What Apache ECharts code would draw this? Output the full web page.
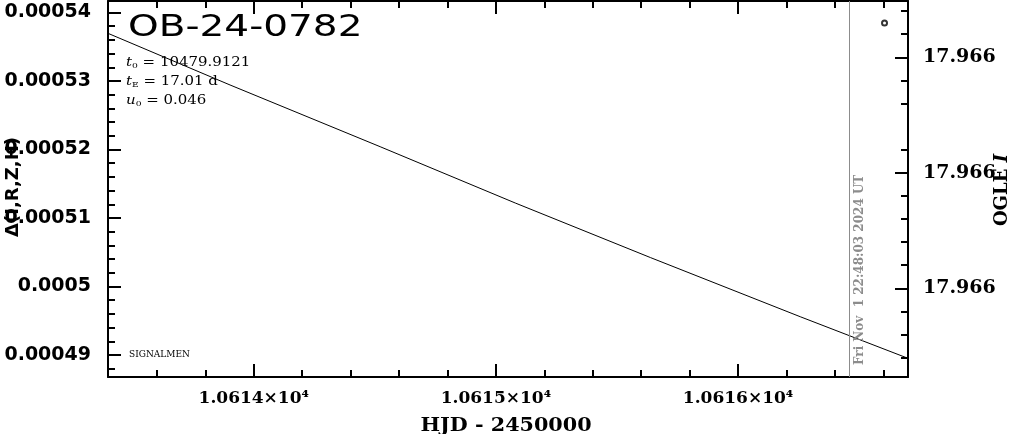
<!DOCTYPE html>
<html><head><meta charset="utf-8">
<script src="https://cdn.jsdelivr.net/npm/echarts@6/dist/echarts.min.js"></script>
<style>html,body{margin:0;padding:0;background:#fff}#c{width:1011px;height:434px}</style>
</head><body><div id="c"></div>
<script>
// ---- data ----
const hjd = [10613.398, 10613.902, 10614.522, 10615.080, 10615.638, 10616.257, 10616.699];
const deltaFlux = [0.00053696, 0.00052942, 0.00052041, 0.00051219, 0.00050423, 0.00049559, 0.00048956];
const ogleHjd = [10616.605];
const ogleDelta = [0.00053847];
const nowHjd = 10616.457;
const nowLabel = 'Fri Nov  1 22:48:03 2024 UT';
const title = 'OB-24-0782';
const params = ['{i|t}{s|0} = 10479.9121', '{i|t}{s|E} = 17.01 d', '{i|u}{s|0} = 0.046'];

const xMin = 10613.398, xMax = 10616.702;
const yMin = 0.00048679, yMax = 0.00054168;
const magMin = 17.96595025, magMax = 17.96601536;

const xMajorTicks = [10614, 10615, 10616];
const xTickLabels = ['1.0614×10⁴', '1.0615×10⁴', '1.0616×10⁴'];
const xMinorTicks = [10613.6, 10613.8, 10614.2, 10614.4, 10614.6, 10614.8, 10615.2, 10615.4, 10615.6, 10615.8, 10616.2, 10616.4, 10616.6];
const yMajorTicks = [0.00049, 0.0005, 0.00051, 0.00052, 0.00053, 0.00054];
const yTickLabels = ['0.00049', '0.0005', '0.00051', '0.00052', '0.00053', '0.00054'];
const yMinorTicks = [0.000488, 0.000492, 0.000494, 0.000496, 0.000498, 0.000502, 0.000504, 0.000506, 0.000508,
  0.000512, 0.000514, 0.000516, 0.000518, 0.000522, 0.000524, 0.000526, 0.000528, 0.000532, 0.000534, 0.000536, 0.000538];
const magMajorTicks = [17.96596, 17.96598, 17.96600];
const magTickLabels = ['17.966', '17.966', '17.966'];
const magMinorTicks = [17.965952, 17.965956, 17.965964, 17.965968, 17.965976, 17.965984, 17.965988, 17.965992, 17.965996, 17.966004, 17.966008, 17.966012];

// ---- chart ----
function lookup(ticks, labels) {
  return function (v) {
    for (let i = 0; i < ticks.length; i++) if (Math.abs(ticks[i] - v) < 1e-9 * Math.max(1, Math.abs(v))) return labels[i];
    return '';
  };
}
const BLACK = '#000';
function axisBase(extra) {
  return Object.assign({
    type: 'value', splitLine: { show: false },
    axisLine: { show: false }, axisLabel: { show: false }
  }, extra);
}
function majorTick(vals) { return { show: true, inside: true, length: 13, lineStyle: { color: BLACK, width: 2 }, customValues: vals }; }
function minorTick(vals) { return { show: true, inside: true, length: 7, lineStyle: { color: BLACK, width: 2 }, customValues: vals }; }
const frameLine = { show: true, onZero: false, lineStyle: { color: BLACK, width: 2 } };
const paramRich = {
  i: { fontStyle: 'italic', fontFamily: 'DejaVu Serif', fontSize: 13 },
  s: { fontSize: 8, fontFamily: 'DejaVu Serif', padding: [6, 0, 0, 0] }
};

const chart = echarts.init(document.getElementById('c'), null, { renderer: 'canvas' });
chart.setOption({
  animation: false,
  backgroundColor: '#fff',
  grid: { left: 108, right: 103, top: 1, bottom: 57, containLabel: false },
  xAxis: [
    axisBase({ position: 'bottom', min: xMin, max: xMax, axisLine: frameLine, axisTick: majorTick(xMajorTicks),
      axisLabel: { show: true, customValues: xMajorTicks, formatter: lookup(xMajorTicks, xTickLabels), margin: 13,
        color: BLACK, fontFamily: 'DejaVu Serif', fontWeight: 'bold', fontSize: 17 } }),
    axisBase({ position: 'bottom', min: xMin, max: xMax, axisTick: minorTick(xMinorTicks) }),
    axisBase({ position: 'top', min: xMin, max: xMax, axisLine: frameLine, axisTick: majorTick(xMajorTicks) }),
    axisBase({ position: 'top', min: xMin, max: xMax, axisTick: minorTick(xMinorTicks) })
  ],
  yAxis: [
    axisBase({ position: 'left', min: yMin, max: yMax, axisLine: frameLine, axisTick: majorTick(yMajorTicks),
      axisLabel: { show: true, customValues: yMajorTicks, formatter: lookup(yMajorTicks, yTickLabels), margin: 17,
        color: BLACK, fontFamily: 'DejaVu Sans', fontWeight: 'bold', fontSize: 19 } }),
    axisBase({ position: 'left', min: yMin, max: yMax, axisTick: minorTick(yMinorTicks) }),
    axisBase({ position: 'right', inverse: true, min: magMin, max: magMax, axisLine: frameLine, axisTick: majorTick(magMajorTicks),
      axisLabel: { show: true, customValues: magMajorTicks, formatter: lookup(magMajorTicks, magTickLabels), margin: 15,
        color: BLACK, fontFamily: 'DejaVu Serif', fontWeight: 'bold', fontSize: 19 } }),
    axisBase({ position: 'right', inverse: true, min: magMin, max: magMax, axisTick: minorTick(magMinorTicks) })
  ],
  series: [
    {
      type: 'line', xAxisIndex: 0, yAxisIndex: 0, showSymbol: false, silent: true,
      data: hjd.map((t, i) => [t, deltaFlux[i]]),
      lineStyle: { color: BLACK, width: 1 },
      markLine: {
        silent: true, symbol: 'none', animation: false,
        lineStyle: { color: '#8c8c8c', width: 1, type: 'solid' },
        label: { show: true, formatter: nowLabel, position: 'insideStartBottom', distance: [12, 4],
          color: '#8c8c8c', fontFamily: 'DejaVu Serif', fontWeight: 'bold', fontSize: 12 },
        data: [{ xAxis: nowHjd }]
      }
    },
    {
      type: 'scatter', xAxisIndex: 0, yAxisIndex: 0, silent: true,
      symbol: 'emptyCircle', symbolSize: 5,
      itemStyle: { color: BLACK, borderColor: BLACK, borderWidth: 2 },
      data: ogleHjd.map((t, i) => [t, ogleDelta[i]])
    }
  ],
  graphic: [
    { type: 'text', x: 128, y: 28, scaleX: 1.3, style: { text: title, fill: BLACK, font: '30px "DejaVu Sans"', textVerticalAlign: 'middle' } },
    { type: 'text', x: 126, y: 63, scaleX: 1.15, style: { text: params[0], fill: BLACK, font: '13px "DejaVu Serif"', textVerticalAlign: 'middle', rich: paramRich } },
    { type: 'text', x: 126, y: 82, scaleX: 1.15, style: { text: params[1], fill: BLACK, font: '13px "DejaVu Serif"', textVerticalAlign: 'middle', rich: paramRich } },
    { type: 'text', x: 126, y: 101, scaleX: 1.15, style: { text: params[2], fill: BLACK, font: '13px "DejaVu Serif"', textVerticalAlign: 'middle', rich: paramRich } },
    { type: 'text', left: 129, top: 350, style: { text: 'SIGNALMEN', fill: BLACK, font: '9px "DejaVu Serif"' } },
    { type: 'text', x: 506, y: 426, scaleX: 1.15, style: { text: 'HJD - 2450000', fill: BLACK, font: 'bold 18px "DejaVu Serif"', textAlign: 'center', textVerticalAlign: 'middle' } },
    { type: 'text', x: 13, y: 187, rotation: Math.PI / 2, style: { text: 'Δ(I,R,Z,H)', fill: BLACK, font: 'bold 18px "DejaVu Sans"', textAlign: 'center', textVerticalAlign: 'middle' } },
    { type: 'text', x: 1002, y: 190, rotation: Math.PI / 2, style: { text: 'OGLE {it|I}', fill: BLACK, font: 'bold 18px "DejaVu Serif"', textAlign: 'center', textVerticalAlign: 'middle',
        rich: { it: { fontStyle: 'italic', fontWeight: 'bold', fontFamily: 'DejaVu Serif', fontSize: 18 } } } }
  ]
});
</script>
</body></html>
